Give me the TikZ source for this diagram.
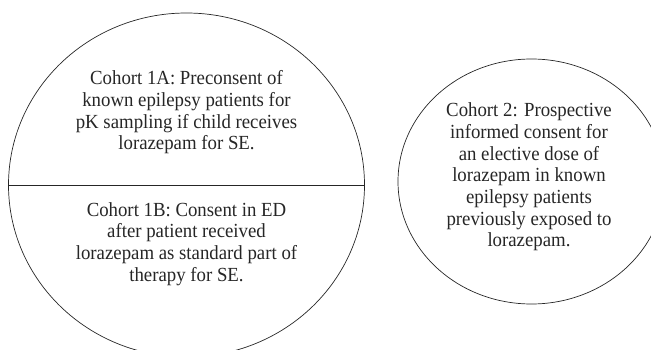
\documentclass[tikz,border=0pt]{standalone}
\usepackage{fontspec}
\setmainfont{Liberation Serif}[FakeStretch=0.94]
\usetikzlibrary{shapes.geometric,positioning}

\tikzset{
	cohortoval/.style = {draw=black!85, ellipse, line width=0.7pt, inner sep=0pt},
	cohorttext/.style = {align=center, inner sep=0pt, text=black!85,
		font=\fontsize{20}{21.7}\selectfont}
}

\begin{document}
\begin{tikzpicture}[x=1pt, y=-1pt]
	\useasboundingbox (0,0) rectangle (651,350);
	\clip (0,0) rectangle (651,350);
	
	\node (one) at (186.5,185) [cohortoval, minimum width=356pt, minimum height=344pt] {};
	\node (two) at (531.5,181.5) [cohortoval, minimum width=267pt, minimum height=245pt] {};
	
	\draw[black!85, line width=0.8pt] (one.west) -- (one.east);
	
	\node (oneA) at (186.5,112.5) [cohorttext]
	{Cohort 1A: Preconsent of\\ known epilepsy patients for\\ pK sampling if child receives\\ lorazepam for SE.};
	
	\node (oneB) at (186.5,244) [cohorttext]
	{Cohort 1B: Consent in ED\\ after patient received\\ lorazepam as standard part of\\ therapy for SE.};
	
	\node (twoT) at (529,177) [cohorttext]
	{Cohort 2: Prospective\\ informed consent for\\ an elective dose of\\ lorazepam in known\\ epilepsy patients\\ previously exposed to\\ lorazepam.};
	
\end{tikzpicture}
\end{document}
